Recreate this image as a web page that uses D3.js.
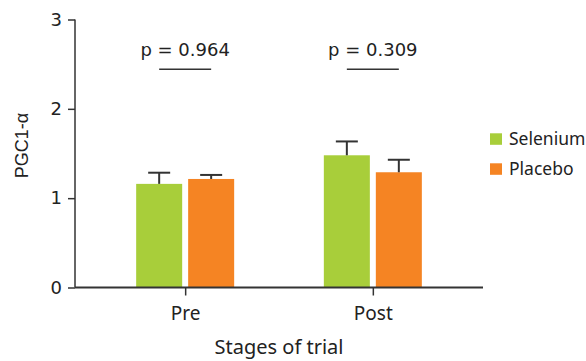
<!DOCTYPE html>
<html><head><meta charset="utf-8">
<script src="https://cdn.jsdelivr.net/npm/d3@7/dist/d3.min.js"></script>
<style>body{margin:0;background:#fff}svg{display:block}</style>
</head><body>
<svg id="c" width="586" height="361"></svg>
<script>
const stages = ["Pre", "Post"];
const series = ["Selenium", "Placebo"];
const colors = ["#A8CE3A", "#F58423"];
const selenium = [1.16, 1.48];
const placebo = [1.215, 1.29];
const seleniumErr = [0.125, 0.155];
const placeboErr = [0.045, 0.14];
const pValues = ["p = 0.964", "p = 0.309"];
const yTicks = [0, 1, 2, 3];

const svg = d3.select("#c");
const axisColor = "#333";
const numFont = "'DejaVu Sans', sans-serif";
const txtFont = "'Noto Sans', sans-serif";
const x = d3.scalePoint().domain(stages).range([75, 483]).padding(0.587);
const x1 = d3.scaleBand().domain(series).range([-49, 49]).paddingInner(0.115);
const y = d3.scaleLinear().domain([0, 3]).range([287.5, 19.5]);

const data = [];
stages.forEach((s, i) => {
  data.push({stage: s, series: "Selenium", v: selenium[i], e: seleniumErr[i]});
  data.push({stage: s, series: "Placebo", v: placebo[i], e: placeboErr[i]});
});
const col = d3.scaleOrdinal().domain(series).range(colors);

// bars
svg.append("g").selectAll("rect").data(data).join("rect")
  .attr("x", d => x(d.stage) + x1(d.series))
  .attr("width", x1.bandwidth())
  .attr("y", d => y(d.v))
  .attr("height", d => y(0) - y(d.v))
  .attr("fill", d => col(d.series));

// error bars
const eg = svg.append("g").attr("stroke", axisColor).attr("stroke-width", 2);
data.forEach(d => {
  const cx = x(d.stage) + x1(d.series) + x1.bandwidth() / 2;
  eg.append("line").attr("x1", cx).attr("x2", cx).attr("y1", y(d.v)).attr("y2", y(d.v + d.e));
  eg.append("line").attr("x1", cx - 11).attr("x2", cx + 11).attr("y1", y(d.v + d.e)).attr("y2", y(d.v + d.e));
});

// y axis
const ya = svg.append("g").attr("transform", "translate(75,0)")
  .call(d3.axisLeft(y).tickValues(yTicks).tickFormat(d3.format("d")).tickSize(7).tickPadding(6).tickSizeOuter(0));
ya.select(".domain").attr("stroke", axisColor).attr("stroke-width", 1.5).attr("d", `M0,${y(3)}V${y(0)}`);
ya.selectAll(".tick line").attr("stroke", axisColor).attr("stroke-width", 1.5);
ya.selectAll(".tick text").attr("fill", "#222").style("font-family", numFont).style("font-size", "18px");

// x axis
const xa = svg.append("g").attr("transform", `translate(0,${y(0)})`)
  .call(d3.axisBottom(x).tickSize(8).tickPadding(6).tickSizeOuter(0));
xa.select(".domain").attr("stroke", axisColor).attr("stroke-width", 1.8).attr("d", "M75,0H483");
xa.selectAll(".tick line").attr("stroke", axisColor).attr("stroke-width", 1.5);
xa.selectAll(".tick text").attr("fill", "#222").attr("dy", "0.95em").style("font-family", txtFont).style("font-size", "19px");

// axis titles
svg.append("text").attr("x", 279).attr("y", 354).attr("text-anchor", "middle")
  .attr("fill", "#222").style("font-family", txtFont).style("font-size", "20px").text("Stages of trial");
svg.append("text").attr("transform", "translate(28,145.5) rotate(-90)").attr("text-anchor", "middle")
  .attr("fill", "#222").style("font-family", "'Liberation Sans', Arial, sans-serif").style("font-size", "18px").text("PGC1-α");

// p values
stages.forEach((s, i) => {
  const a = x(s) + x1("Selenium") + x1.bandwidth() / 2;
  const b = x(s) + x1("Placebo") + x1.bandwidth() / 2;
  svg.append("line").attr("x1", a).attr("x2", b).attr("y1", 69.3).attr("y2", 69.3)
    .attr("stroke", axisColor).attr("stroke-width", 1.5);
  svg.append("text").attr("x", x(s)).attr("y", 56).attr("text-anchor", "middle")
    .attr("fill", "#222").style("font-family", numFont)
    .style("font-size", "18px").text(pValues[i]);
});

// legend
const lg = svg.append("g");
series.forEach((s, i) => {
  lg.append("rect").attr("x", 490).attr("y", 133.3 + i * 30).attr("width", 12).attr("height", 11.5).attr("fill", colors[i]);
  lg.append("text").attr("x", 509).attr("y", 145 + i * 30).attr("fill", "#222")
    .style("font-family", txtFont).style("font-size", "17.5px").text(s);
});
</script>
</body></html>
